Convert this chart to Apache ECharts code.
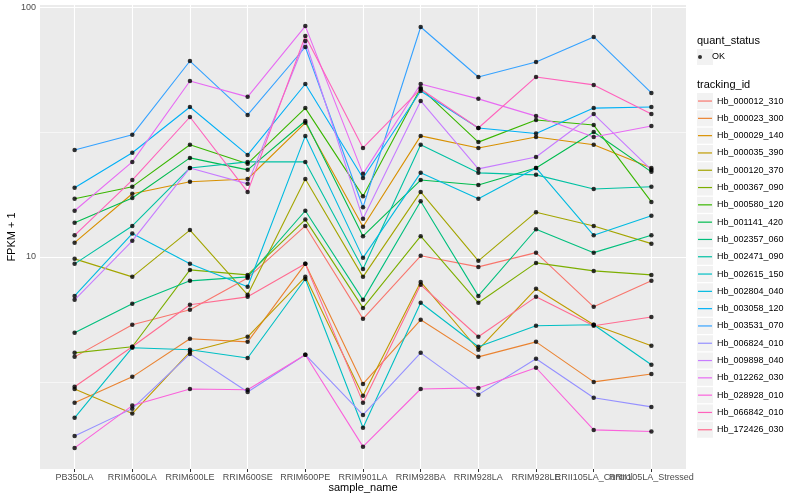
<!DOCTYPE html>
<html><head><meta charset="utf-8">
<script src="https://cdn.jsdelivr.net/npm/echarts@6/dist/echarts.min.js"></script>
<style>html,body{margin:0;padding:0;background:#fff}#c{width:800px;height:500px}</style>
</head><body><div id="c"></div>
<script>
const categories = ['PB350LA','RRIM600LA','RRIM600LE','RRIM600SE','RRIM600PE','RRIM901LA','RRIM928BA','RRIM928LA','RRIM928LE','RRII105LA_Control','RRII105LA_Stressed'];
const trackingIds = ['Hb_000012_310','Hb_000023_300','Hb_000029_140','Hb_000035_390','Hb_000120_370','Hb_000367_090','Hb_000580_120','Hb_001141_420','Hb_002357_060','Hb_002471_090','Hb_002615_150','Hb_002804_040','Hb_003058_120','Hb_003531_070','Hb_006824_010','Hb_009898_040','Hb_012262_030','Hb_028928_010','Hb_066842_010','Hb_172426_030'];
const colors = ['#F8766D','#EA8331','#D89000','#C09B00','#A3A500','#7CAE00','#39B600','#00BB4E','#00BF7D','#00C1A3','#00BFC4','#00BAE0','#00B0F6','#35A2FF','#9590FF','#C77CFF','#E76BF3','#FA62DB','#FF62BC','#FF6C91'];

const Hb_000012_310 = [3.98, 5.35, 6.14, 8.24, 13.3, 5.65, 10.1, 9.12, 10.4, 6.31, 8.02];
const Hb_000023_300 = [2.61, 3.31, 4.70, 4.57, 9.38, 3.10, 5.60, 3.98, 4.57, 3.16, 3.40];
const Hb_000029_140 = [11.4, 17.9, 20.0, 20.5, 34.4, 13.2, 30.5, 27.3, 30.2, 28.1, 22.7];
const Hb_000035_390 = [2.96, 2.36, 4.17, 4.79, 8.32, 2.78, 7.94, 4.25, 7.45, 5.35, 4.41];
const Hb_000120_370 = [9.82, 8.32, 12.8, 7.05, 20.5, 8.32, 18.2, 9.64, 15.1, 13.3, 11.3];
const Hb_000367_090 = [4.13, 4.37, 8.87, 8.47, 14.1, 6.25, 12.1, 6.55, 9.46, 8.79, 8.47];
const Hb_000580_120 = [17.1, 19.1, 28.1, 23.6, 39.4, 17.5, 47.4, 28.8, 35.3, 33.7, 16.6];
const Hb_001141_420 = [13.7, 17.2, 24.9, 22.3, 35.0, 12.1, 20.3, 19.4, 22.7, 31.6, 21.9];
const Hb_002357_060 = [4.97, 6.49, 8.02, 8.32, 15.3, 6.73, 16.7, 6.98, 12.9, 10.4, 12.2];
const Hb_002471_090 = [9.38, 13.3, 22.7, 24.0, 24.0, 8.95, 28.1, 21.7, 21.3, 18.7, 19.1];
const Hb_002615_150 = [2.27, 4.33, 4.25, 3.94, 8.16, 2.07, 6.55, 4.37, 5.30, 5.35, 3.70];
const Hb_002804_040 = [6.98, 12.4, 9.38, 7.59, 30.5, 9.91, 21.7, 17.1, 22.7, 12.2, 14.6];
const Hb_003058_120 = [18.9, 26.1, 39.8, 25.6, 49.2, 20.7, 46.1, 32.8, 31.2, 39.4, 39.8];
const Hb_003531_070 = [26.8, 30.8, 60.8, 37.0, 69.2, 15.8, 83.2, 52.5, 60.3, 75.9, 45.3];
const Hb_006824_010 = [1.92, 2.47, 4.09, 2.88, 4.06, 2.33, 4.13, 2.81, 3.91, 2.73, 2.51];
const Hb_009898_040 = [6.73, 11.6, 22.7, 19.6, 73.1, 14.2, 42.1, 22.5, 25.1, 37.3, 22.3];
const Hb_012262_030 = [15.3, 24.0, 50.6, 43.7, 83.9, 21.5, 49.2, 42.9, 36.6, 30.2, 33.4];
const Hb_028928_010 = [1.72, 2.54, 2.96, 2.94, 4.06, 1.74, 2.96, 2.99, 3.60, 2.03, 2.00];
const Hb_066842_010 = [12.2, 20.3, 36.3, 18.2, 76.6, 27.3, 47.0, 32.8, 52.5, 48.8, 37.3];
const Hb_172426_030 = [3.02, 4.37, 6.43, 6.92, 9.38, 2.61, 7.73, 4.79, 6.92, 5.30, 5.75];

const seriesValues = [Hb_000012_310, Hb_000023_300, Hb_000029_140, Hb_000035_390, Hb_000120_370, Hb_000367_090, Hb_000580_120, Hb_001141_420, Hb_002357_060, Hb_002471_090, Hb_002615_150, Hb_002804_040, Hb_003058_120, Hb_003531_070, Hb_006824_010, Hb_009898_040, Hb_012262_030, Hb_028928_010, Hb_066842_010, Hb_172426_030];

const yMajorTicks = [10, 100];
const yMinorTicks = [3.1623, 31.623];
const quantStatus = ['OK'];

const FONT = '"Liberation Sans", Arial, sans-serif';
const xIdx = categories.map((c, i) => i);
const xIdxEven = xIdx.filter(i => i % 2 === 0);
const xIdxOdd = xIdx.filter(i => i % 2 === 1);

// panel grid lines (drawn through the axes' own scales)
const gridSeries = {
  type: 'line', name: '_grid', data: [], z: 1, silent: true,
  markLine: {
    silent: true, symbol: ['none', 'none'], animation: false, z: 1,
    label: { show: false }, emphasis: { disabled: true },
    data: [].concat(
      xIdx.map(i => ({ xAxis: i, lineStyle: { color: '#FFFFFF', width: 1.1, type: 'solid' } })),
      yMajorTicks.map(v => ({ yAxis: v, lineStyle: { color: '#FFFFFF', width: 1.1, type: 'solid' } })),
      yMinorTicks.map(v => ({ yAxis: v, lineStyle: { color: '#FFFFFF', width: 0.55, type: 'solid' } }))
    )
  }
};

const lineSeries = trackingIds.map((id, k) => ({
  type: 'line', name: id,
  data: seriesValues[k].map((v, i) => [i, v]),
  symbol: 'none', showSymbol: false,
  lineStyle: { width: 1.1, color: colors[k] },
  itemStyle: { color: colors[k] },
  z: 2, silent: true
}));
const pointData = [];
seriesValues.forEach(arr => arr.forEach((v, i) => pointData.push([i, v])));
const pointSeries = {
  type: 'scatter', name: quantStatus[0], data: pointData,
  symbol: 'circle', symbolSize: 4.5, itemStyle: { color: '#000' }, z: 3, silent: true
};

// legend layout constants
const LEG_X = 698, KEY_STEP = 17.3, TRACK_TOP = 92.4, OK_TOP = 48.35;
const keyBoxes = [];
keyBoxes.push({ type: 'rect', shape: { x: 697, y: OK_TOP + KEY_STEP / 2 - 8, width: 16, height: 16 }, style: { fill: '#F2F2F2' }, z: 0 });
trackingIds.forEach((id, i) => keyBoxes.push({ type: 'rect', shape: { x: 697, y: TRACK_TOP + KEY_STEP * i + KEY_STEP / 2 - 8, width: 16, height: 16 }, style: { fill: '#F2F2F2' }, z: 0 }));

const axisLabelStyle = { color: '#4D4D4D', fontSize: 9, fontFamily: FONT };
const xLabelFmt = v => categories[Math.round(v)];

const option = {
  animation: false,
  backgroundColor: '#fff',
  textStyle: { fontFamily: FONT },
  title: [
    { text: 'quant_status', left: 697, top: 35, padding: 0, textStyle: { fontSize: 11, fontWeight: 'normal', color: '#000', fontFamily: FONT } },
    { text: 'tracking_id', left: 697, top: 79, padding: 0, textStyle: { fontSize: 11, fontWeight: 'normal', color: '#000', fontFamily: FONT } }
  ],
  graphic: keyBoxes,
  legend: [
    { data: quantStatus, orient: 'vertical', left: LEG_X, top: OK_TOP, padding: 0, itemGap: 0,
      icon: 'circle', itemWidth: 14, itemHeight: 4, selectedMode: false,
      textStyle: { fontSize: 9, color: '#000', lineHeight: KEY_STEP, fontFamily: FONT } },
    { data: trackingIds, orient: 'vertical', left: LEG_X, top: TRACK_TOP, padding: 0, itemGap: 0,
      icon: 'rect', itemWidth: 14, itemHeight: 1.2, selectedMode: false,
      textStyle: { fontSize: 9, color: '#000', lineHeight: KEY_STEP, fontFamily: FONT } }
  ],
  grid: { left: 40, right: 114, top: 5, bottom: 31, show: true, backgroundColor: '#EBEBEB', borderWidth: 0,
          containLabel: false, outerBoundsMode: 'none' },
  xAxis: [
    { type: 'value', min: -0.6, max: 10.6, position: 'bottom',
      axisLine: { show: false },
      axisTick: { show: true, length: 3, lineStyle: { color: '#333333', width: 1 }, customValues: xIdx },
      axisLabel: Object.assign({ customValues: xIdxEven, formatter: xLabelFmt, margin: 4, hideOverlap: false }, axisLabelStyle),
      splitLine: { show: false },
      name: 'sample_name', nameLocation: 'middle', nameGap: 13, nameMoveOverlap: false,
      nameTextStyle: { fontSize: 11, color: '#000', fontFamily: FONT } },
    { type: 'value', min: -0.6, max: 10.6, position: 'bottom', offset: 0,
      axisLine: { show: false },
      axisTick: { show: false, customValues: xIdxOdd },
      axisLabel: Object.assign({ customValues: xIdxOdd, formatter: xLabelFmt, margin: 4, hideOverlap: false }, axisLabelStyle),
      splitLine: { show: false } }
  ],
  yAxis: {
    type: 'log', logBase: 10, min: 1.416, max: 101.9,
    axisLine: { show: false },
    axisTick: { show: true, length: 3, lineStyle: { color: '#333333', width: 1 }, customValues: yMajorTicks },
    axisLabel: Object.assign({ customValues: yMajorTicks, margin: 4, formatter: v => String(Math.round(v)),
      hideOverlap: false }, axisLabelStyle),
    splitLine: { show: false },
    name: 'FPKM + 1', nameLocation: 'middle', nameGap: 23, nameRotate: 90, nameMoveOverlap: false,
    nameTextStyle: { fontSize: 11, color: '#000', fontFamily: FONT }
  },
  series: [gridSeries].concat(lineSeries, [pointSeries])
};

const chart = echarts.init(document.getElementById('c'), null, { renderer: 'canvas' });
chart.setOption(option);
</script>
</body></html>
